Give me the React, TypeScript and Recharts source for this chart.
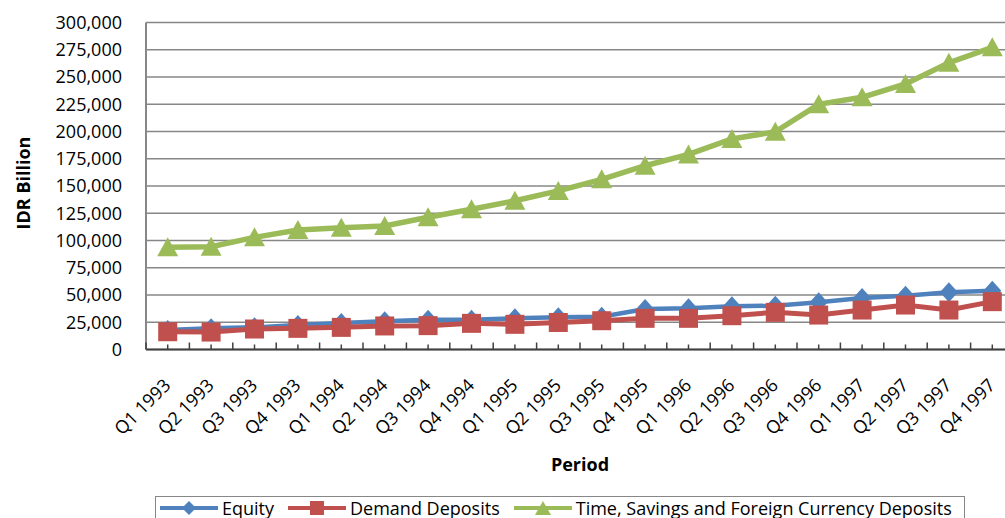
import React from 'react';
import { LineChart, Line, XAxis, YAxis, CartesianGrid } from 'recharts';

// Quarterly balances, IDR billion
const periods = [
  'Q1 1993', 'Q2 1993', 'Q3 1993', 'Q4 1993',
  'Q1 1994', 'Q2 1994', 'Q3 1994', 'Q4 1994',
  'Q1 1995', 'Q2 1995', 'Q3 1995', 'Q4 1995',
  'Q1 1996', 'Q2 1996', 'Q3 1996', 'Q4 1996',
  'Q1 1997', 'Q2 1997', 'Q3 1997', 'Q4 1997',
];
const equity = [
  18000, 19400, 20300, 22500, 24300, 25900, 27400, 27400, 28600, 29500,
  30100, 37200, 37800, 39600, 40200, 43300, 47300, 49400, 52500, 53900,
];
const demandDeposits = [
  16300, 16000, 18800, 19400, 20300, 21600, 21900, 24000, 23100, 24800,
  26400, 28600, 28600, 31000, 34100, 31600, 36200, 40800, 36200, 43900,
];
const timeSavingsFxDeposits = [
  93800, 94300, 102900, 109600, 111800, 113300, 121300, 128600, 136500, 145500,
  156100, 168600, 179000, 193100, 199800, 224900, 231400, 243600, 263100, 277200,
];
const yTicks = [0, 25000, 50000, 75000, 100000, 125000, 150000, 175000, 200000, 225000, 250000, 275000, 300000];

const rows = periods.map((period, i) => ({
  period,
  equity: equity[i],
  demand: demandDeposits[i],
  time: timeSavingsFxDeposits[i],
}));

const BLUE = '#4F81BD';
const RED = '#C0504D';
const GREEN = '#9BBB59';
const FONT = '"Open Sans", "Noto Sans", sans-serif';

const CHART_W = 1030;
const CHART_H = 518;
const MARGIN = { top: 22.5, right: 16, bottom: 0, left: 0 };
const Y_AXIS_W = 146;
const X_AXIS_H = 168.5;
const PLOT_W = CHART_W - MARGIN.left - MARGIN.right - Y_AXIS_W;
const STEP = PLOT_W / periods.length;

const fmt = (v: number) => v.toLocaleString('en-US');

const Diamond = ({ cx, cy, r = 10, w = 9 }: any) => (
  <polygon points={`${cx},${cy - r} ${cx + w},${cy} ${cx},${cy + r} ${cx - w},${cy}`} fill={BLUE} />
);
const Square = ({ cx, cy, s = 19 }: any) => (
  <rect x={cx - s / 2} y={cy - s / 2} width={s} height={s} fill={RED} />
);
const Triangle = ({ cx, cy, h = 10, w = 10.5 }: any) => (
  <polygon points={`${cx},${cy - h} ${cx + w},${cy + h - 1} ${cx - w},${cy + h - 1}`} fill={GREEN} />
);

const PeriodTick = (props: any) => {
  const { x, y, payload, index } = props;
  const half = STEP / 2;
  return (
    <g>
      <line x1={x} y1={y} x2={x} y2={y - 5} stroke="#404040" strokeWidth={1.5} />
      <line x1={x - half} y1={y} x2={x - half} y2={y - 7} stroke="#404040" strokeWidth={1.5} />
      {index === periods.length - 1 && (
        <line x1={x + half} y1={y} x2={x + half} y2={y - 7} stroke="#404040" strokeWidth={1.5} />
      )}
      <text
        x={x + 4}
        y={y + 37}
        transform={`rotate(-45 ${x + 4} ${y + 37})`}
        textAnchor="end"
        fontSize={18}
        fontFamily={FONT}
        fill="#000"
      >
        {payload.value}
      </text>
    </g>
  );
};

const YTitle = (props: any) => {
  const { viewBox } = props;
  const cx = viewBox.x + 22.5;
  const cy = viewBox.y + viewBox.height / 2 - 3;
  return (
    <text
      x={cx}
      y={cy}
      transform={`rotate(-90 ${cx} ${cy})`}
      textAnchor="middle"
      dominantBaseline="central"
      fontSize={18}
      fontWeight="bold"
      fontFamily={FONT}
      fill="#000"
    >
      IDR Billion
    </text>
  );
};

const XTitle = (props: any) => {
  const { viewBox } = props;
  return (
    <text
      x={viewBox.x + viewBox.width / 2}
      y={viewBox.y + 114}
      textAnchor="middle"
      dominantBaseline="central"
      fontSize={18}
      fontWeight="bold"
      fontFamily={FONT}
      fill="#000"
    >
      Period
    </text>
  );
};

const legendItems = [
  { label: 'Equity', color: BLUE, marker: 'diamond' },
  { label: 'Demand Deposits', color: RED, marker: 'square' },
  { label: 'Time, Savings and Foreign Currency Deposits', color: GREEN, marker: 'triangle' },
];

const LegendSample = ({ color, marker }: { color: string; marker: string }) => (
  <svg width={58} height={20} style={{ display: 'block' }}>
    <line x1={0} y1={10} x2={58} y2={10} stroke={color} strokeWidth={4} />
    {marker === 'diamond' && <polygon points="29,3 36,10 29,17 22,10" fill={color} />}
    {marker === 'square' && <rect x={22} y={3} width={14} height={14} fill={color} />}
    {marker === 'triangle' && <polygon points="29,3 37,17 21,17" fill={color} />}
  </svg>
);

export default function App() {
  return (
    <div
      style={{
        position: 'absolute',
        left: 0,
        top: 0,
        width: 1005,
        height: 518,
        overflow: 'hidden',
        background: '#fff',
      }}
    >
      <LineChart width={CHART_W} height={CHART_H} data={rows} margin={MARGIN}>
        <CartesianGrid horizontal vertical={false} stroke="#878787" strokeWidth={1.5} />
        <XAxis
          dataKey="period"
          type="category"
          interval={0}
          height={X_AXIS_H}
          padding={{ left: STEP / 2, right: STEP / 2 }}
          axisLine={{ stroke: '#404040', strokeWidth: 2 }}
          tickLine={false}
          tickSize={0}
          tickMargin={0}
          tick={<PeriodTick />}
          label={<XTitle />}
        />
        <YAxis
          width={Y_AXIS_W}
          domain={[0, 300000]}
          ticks={yTicks}
          interval={0}
          tickFormatter={fmt}
          axisLine={{ stroke: '#878787', strokeWidth: 2 }}
          tickLine={false}
          tickSize={0}
          tickMargin={24}
          tick={{ fontSize: 18, fill: '#000', fontFamily: FONT }}
          label={<YTitle />}
        />
        <Line
          dataKey="equity"
          stroke={BLUE}
          strokeWidth={4.5}
          isAnimationActive={false}
          dot={(p: any) => <Diamond key={`eq-${p.index}`} cx={p.cx} cy={p.cy} />}
          activeDot={false}
        />
        <Line
          dataKey="demand"
          stroke={RED}
          strokeWidth={5}
          isAnimationActive={false}
          dot={(p: any) => <Square key={`dd-${p.index}`} cx={p.cx} cy={p.cy} />}
          activeDot={false}
        />
        <Line
          dataKey="time"
          stroke={GREEN}
          strokeWidth={5.5}
          isAnimationActive={false}
          dot={(p: any) => <Triangle key={`ts-${p.index}`} cx={p.cx} cy={p.cy} />}
          activeDot={false}
        />
      </LineChart>
      <div
        style={{
          position: 'absolute',
          left: 155,
          top: 496,
          width: 810,
          height: 30,
          boxSizing: 'border-box',
          border: '1px solid #878787',
          display: 'flex',
          alignItems: 'flex-start',
          paddingLeft: 4,
          paddingTop: 0,
          fontFamily: FONT,
          fontSize: 18,
          color: '#000',
          whiteSpace: 'nowrap',
        }}
      >
        {legendItems.map((item) => (
          <div key={item.label} style={{ display: 'flex', alignItems: 'center', marginRight: 14, height: 22 }}>
            <LegendSample color={item.color} marker={item.marker} />
            <span style={{ marginLeft: 4, lineHeight: '22px' }}>{item.label}</span>
          </div>
        ))}
      </div>
    </div>
  );
}
